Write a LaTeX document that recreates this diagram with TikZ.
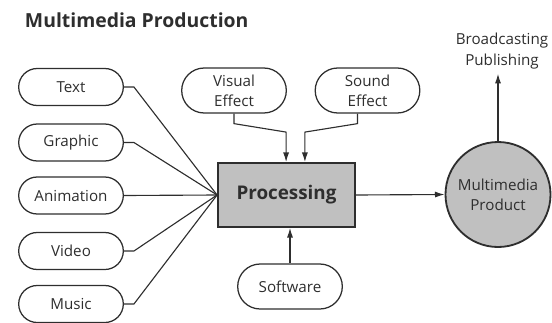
\documentclass[tikz,border=0pt]{standalone}
\usepackage{fontspec}
\setmainfont{Open Sans}
\usepackage{tikz}
\usetikzlibrary{arrows.meta,shapes.misc}
\definecolor{ink}{HTML}{2E2E2E}
\definecolor{boxgray}{HTML}{C0C0C0}

\begin{document}
\begin{tikzpicture}[font=\fontsize{10.8}{14.5}\selectfont, color=ink,
    >={Latex[length=2.4mm,width=1.5mm]},
    pill/.style={draw, line width=0.9pt, rounded rectangle, minimum width=2.85cm, align=center}]
    \useasboundingbox (0, 0) rectangle (13.8, -8.05);

    \node (title) [anchor=west, font=\fontsize{13.8}{15}\selectfont\bfseries] at (0.5, -0.5) {Multimedia Production};

    \node (text) [pill, minimum height=0.925cm] at (1.775, -2.175) {Text};
    \node (graphic) [pill, minimum height=0.925cm] at (1.775, -3.5625) {Graphic};
    \node (anim) [pill, minimum height=0.925cm] at (1.775, -4.8875) {Animation};
    \node (video) [pill, minimum height=0.925cm] at (1.775, -6.275) {Video};
    \node (music) [pill, minimum height=0.925cm] at (1.775, -7.6) {Music};

    \node (proc) [draw, line width=1.3pt, fill=boxgray, minimum width=3.425cm, minimum height=1.6cm,
        font=\fontsize{13.4}{15}\selectfont\bfseries] at (7.1625, -4.875) {Processing};

    \node (vis) [pill, minimum height=1.125cm] at (5.85, -2.2625) {Visual\\Effect};
    \node (snd) [pill, minimum height=1.125cm] at (9.1875, -2.2625) {Sound\\Effect};
    \node (sw) [pill, minimum height=1.125cm] at (7.25, -7.1625) {Software};

    \node (prod) [draw, circle, line width=1.3pt, fill=boxgray, minimum size=2.625cm, align=center] at (12.45, -4.8625) {Multimedia\\Product};
    \node (pub) [align=center] at (12.55, -1.275) {Broadcasting\\Publishing};

    \coordinate (in1) at ([xshift=-0.01cm]proc.north);
    \coordinate (in2) at ([xshift=0.46cm]proc.north);

    \draw[line width=0.8pt] (text.east) -- ++(0.25, 0) -- (proc.west);
    \draw[line width=0.8pt] (graphic.east) -- ++(0.25, 0) -- (proc.west);
    \draw[line width=0.8pt] (anim.east) -- (proc.west);
    \draw[line width=0.8pt] (video.east) -- ++(0.25, 0) -- (proc.west);
    \draw[line width=0.8pt] (music.east) -- ++(0.25, 0) -- (proc.west);

    \draw[->, line width=0.8pt] (vis.south) -- ++(0, -0.25) -- ([yshift=0.75cm]in1) -- (in1);
    \draw[->, line width=0.8pt] ([xshift=-0.25cm]snd.south) -- ++(0, -0.25) -- ([yshift=0.75cm]in2) -- (in2);
    \draw[->, line width=0.8pt] (sw.north) -- (sw.north |- proc.south);
    \draw[->, line width=0.8pt] (proc.east) -- (prod.west);
    \draw[->, line width=0.8pt] (prod.north) -- (prod.north |- pub.south);
\end{tikzpicture}
\end{document}
